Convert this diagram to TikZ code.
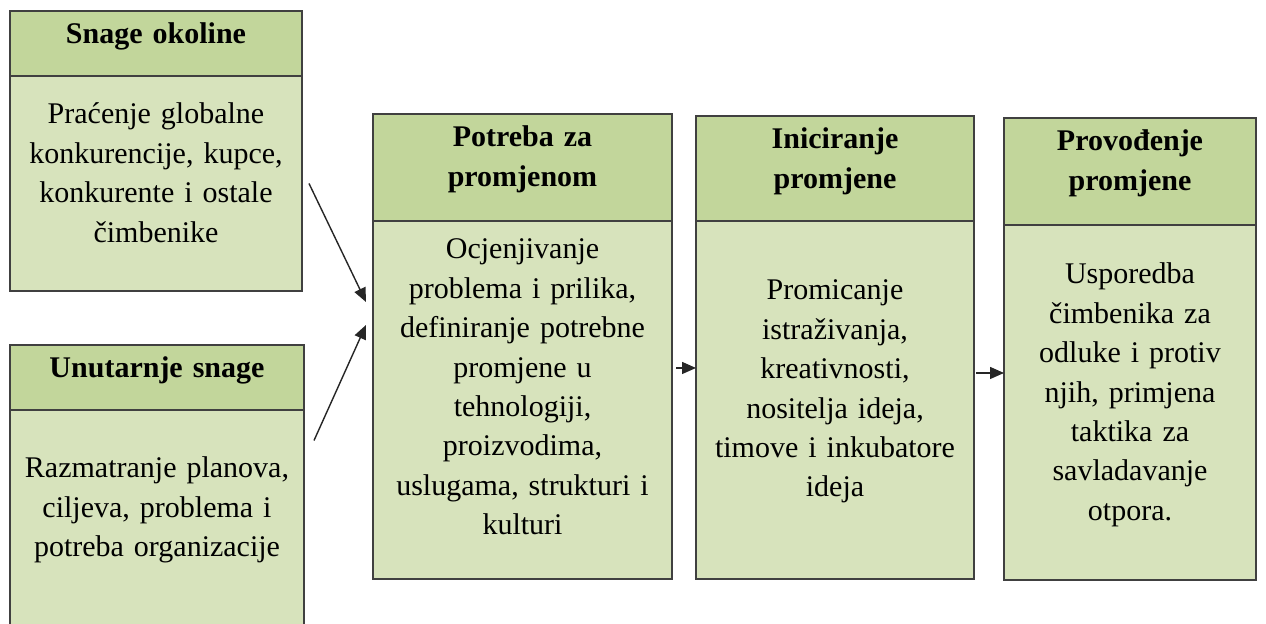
\documentclass[tikz,border=0pt]{standalone}
\usepackage{fontspec}
\setmainfont{Liberation Serif}
\usetikzlibrary{
  arrows.meta,
  positioning,
}
\definecolor{olive60}{RGB}{194, 214, 155}
\definecolor{olive80}{RGB}{215, 227, 188}
\definecolor{frame}{RGB}{64, 64, 64}
\tikzstyle{box} = [
  draw=frame,
  line width=1pt,
  align=center,
  inner xsep=4pt,
  inner ysep=0pt,
  outer sep=0pt,
]
\tikzstyle{head} = [
  box,
  anchor=north west,
  fill=olive60,
  font=\fontsize{15}{20}\selectfont\bfseries,
  text height=16.5pt,
]
\tikzstyle{body} = [
  box,
  fill=olive80,
  font=\fontsize{15}{19.7}\selectfont,
]
\tikzstyle{arrow} = [
  -{Triangle[length=7pt,width=6pt]},
  line width=0.7pt,
  black!85,
]

\begin{document}
\begin{tikzpicture}[x=0.5pt,y=-0.5pt]
  \useasboundingbox[fill=white] (0,0) rectangle (1266,624);

  % forces
  \node[head,text width=138pt,text depth=16pt] (okolinaH) at (10,11) {Snage okoline};
  \node[body,text width=138pt,text height=24pt,text depth=83.5pt,below=0pt of okolinaH] (okolinaB)
    {Praćenje globalne\\konkurencije, kupce,\\konkurente i ostale\\čimbenike};

  \node[head,text width=139pt,text depth=16pt] (unutarnjeH) at (10,345) {Unutarnje snage};
  \node[body,text width=139pt,text height=34pt,text depth=73.5pt,below=0pt of unutarnjeH] (unutarnjeB)
    {Razmatranje planova,\\ciljeva, problema i\\potreba organizacije};

  % stages
  \node[head,text width=141.5pt,text depth=37pt] (potrebaH) at (373,114) {Potreba za\\promjenom};
  \node[body,text width=141.5pt,text height=19pt,text depth=160pt,below=0pt of potrebaH] (potrebaB)
    {Ocjenjivanje\\problema i prilika,\\definiranje potrebne\\promjene u\\tehnologiji,\\proizvodima,\\uslugama, strukturi i\\kulturi};

  \node[head,text width=131pt,text depth=36pt] (iniciranjeH) at (696,116) {Iniciranje\\promjene};
  \node[body,text width=131pt,text height=39.5pt,text depth=139.5pt,below=0pt of iniciranjeH] (iniciranjeB)
    {Promicanje\\istraživanja,\\kreativnosti,\\nositelja ideja,\\timove i inkubatore\\ideja};

  \node[head,text width=118pt,text depth=37pt] (provodenjeH) at (1004,118) {Provođenje\\promjene};
  \node[body,text width=118pt,text height=29.5pt,text depth=148pt,below=0pt of provodenjeH] (provodenjeB)
    {Usporedba\\čimbenika za\\odluke i protiv\\njih, primjena\\taktika za\\savladavanje\\otpora.};

  \draw[arrow] ([xshift=3.5pt]okolinaB.east) -- ([xshift=-3.5pt,yshift=49pt]potrebaB.west);
  \draw[arrow] ([xshift=5pt,yshift=38.5pt]unutarnjeB.east) -- ([xshift=-3.5pt,yshift=37.5pt]potrebaB.west);
  \draw[arrow] ([xshift=2pt,yshift=16pt]potrebaB.east) coordinate (a3) -- (a3 -| iniciranjeB.west);
  \draw[arrow] ([xshift=1pt,yshift=13.5pt]iniciranjeB.east) coordinate (a4) -- (a4 -| provodenjeB.west);
\end{tikzpicture}
\end{document}
